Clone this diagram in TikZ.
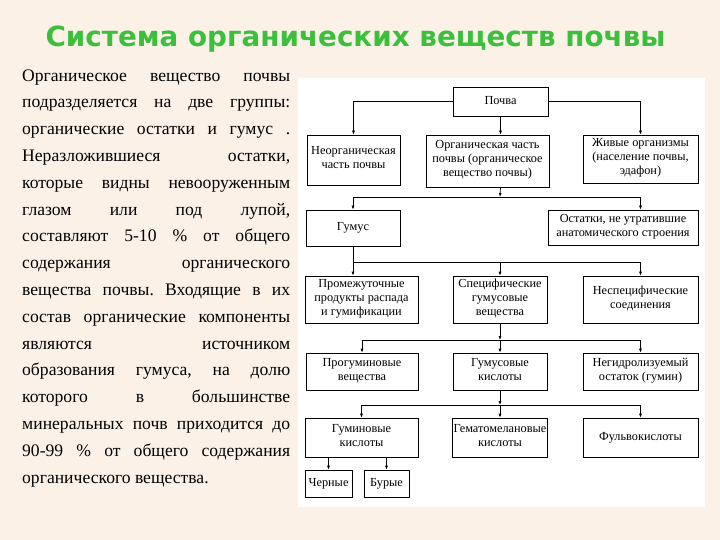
\documentclass[tikz,border=0pt]{standalone}
\usepackage{fontspec}
\setmainfont{Liberation Serif}
\newfontfamily\titlefont{DejaVu Sans}
\usetikzlibrary{positioning, arrows.meta}
\definecolor{slidebg}{HTML}{FCF1E7}
\definecolor{titlegreen}{HTML}{3CBF3C}
\newcommand{\jl}[1]{\makebox[268pt][s]{#1}}
\frenchspacing

\begin{document}
\begin{tikzpicture}[
  x=1pt, y=-1pt,
  box/.style={draw, fill=white, align=center, inner sep=1pt, line width=0.7pt,
    font=\fontsize{12.3}{14}\selectfont,
    execute at begin node=\strut, execute at end node=\strut},
  link/.style={-{Latex[length=4pt, width=3pt]}, line width=0.7pt},
  >=Stealth
]
% slide background and scan panel
\useasboundingbox (0,0) rectangle (720,540);
\fill[slidebg] (0,0) rectangle (720,540);
\fill[white] (298,78) rectangle (705,507);

\node[font=\titlefont\bfseries\fontsize{27.8}{32}\selectfont, text=titlegreen] (title) at (355.5,39)
  {Система органических веществ почвы};

% base of a multi-line node is its last baseline
\node[anchor=base west, inner sep=0, align=left, font=\fontsize{17.6}{26.8}\selectfont] (txt) at (22,483)
  {\jl{Органическое вещество почвы}\\
   \jl{подразделяется на две группы:}\\
   \jl{органические остатки и гумус .}\\
   \jl{Неразложившиеся остатки,}\\
   \jl{которые видны невооруженным}\\
   \jl{глазом или под лупой,}\\
   \jl{составляют 5-10 \% от общего}\\
   \jl{содержания органического}\\
   \jl{вещества почвы. Входящие в их}\\
   \jl{состав органические компоненты}\\
   \jl{являются источником}\\
   \jl{образования гумуса, на долю}\\
   \jl{которого в большинстве}\\
   \jl{минеральных почв приходится до}\\
   \jl{90-99 \% от общего содержания}\\
   органического вещества.};

% diagram
\node[box, minimum width=95pt, minimum height=29pt] (pochva) at (500.5,101.5) {Почва};
\node[box, minimum width=93pt, minimum height=50pt] (neorg) at (353.5,160) {Неорганическая\\часть почвы};
\node[box, minimum width=123pt, minimum height=52pt] (org) at (487.5,161) {Органическая часть\\почвы (органическое\\вещество почвы)};
\node[box, minimum width=115pt, minimum height=48pt] (zhiv) at (640.5,159) {Живые организмы\\(население почвы,\\эдафон)};
\node[box, minimum width=94pt, minimum height=36pt] (gumus) at (353,228) {Гумус};
\node[box, minimum width=150pt, minimum height=35pt] (ostatki) at (623,227.5) {Остатки, не утратившие\\анатомического строения};
\node[box, minimum width=113pt, minimum height=47pt] (prom) at (361.5,299.5) {Промежуточные\\продукты распада\\и гумификации};
\node[box, minimum width=94pt, minimum height=47pt] (spec) at (500,299.5) {Специфические\\гумусовые\\вещества};
\node[box, minimum width=115pt, minimum height=47pt] (nespec) at (640.5,299.5) {Неспецифические\\соединения};
\node[box, minimum width=112pt, minimum height=37pt] (progum) at (362,371.5) {Прогуминовые\\вещества};
\node[box, minimum width=94pt, minimum height=37pt] (gumkisl) at (500,371.5) {Гумусовые\\кислоты};
\node[box, minimum width=115pt, minimum height=37pt] (neghydr) at (640.5,371.5) {Негидролизуемый\\остаток (гумин)};
\node[box, minimum width=113pt, minimum height=39pt] (gumin) at (361.5,437.5) {Гуминовые\\кислоты};
\node[box, minimum width=94pt, minimum height=39pt] (gemat) at (500,437.5) {Гематомелановые\\кислоты};
\node[box, minimum width=115pt, minimum height=39pt] (fulvo) at (640.5,437.5) {Фульвокислоты};
\node[box, minimum width=47pt, minimum height=27pt] (chern) at (328.5,483.5) {Черные};
\node[box, minimum width=45pt, minimum height=27pt] (bur) at (386.5,483.5) {Бурые};

% bus junctions
\coordinate (b1) at (500,197);
\coordinate (b2) at (353,262);
\coordinate (b3) at (500,340);
\coordinate (b4) at (500,405);

\draw[link] (pochva.west) -| (neorg.north);
\draw[link] (pochva.east) -| (zhiv.north);
\draw[link] (pochva.south) -- (pochva.south |- org.north);
\draw[link] (pochva.south |- org.south) -- (b1);
\draw[link] (b1) -| (gumus.north);
\draw[link] (b1) -| (zhiv.south |- ostatki.north);
\draw[link] (gumus.south) -- (gumus.south |- prom.north);
\draw[link] (b2) -| (spec.north);
\draw[link] (b2) -| (nespec.north);
\draw[link] (spec.south) -- (b3);
\draw[link] (b3) -| (progum.north);
\draw[link] (b3) -- (gumkisl.north);
\draw[link] (b3) -| (neghydr.north);
\draw[link] (gumkisl.south) -- (b4);
\draw[link] (b4) -| (gumin.north);
\draw[link] (b4) -- (gemat.north);
\draw[link] (b4) -| (fulvo.north);
\draw[link] (chern.north |- gumin.south) -- (chern.north);
\draw[link] (bur.north |- gumin.south) -- (bur.north);
\end{tikzpicture}
\end{document}
